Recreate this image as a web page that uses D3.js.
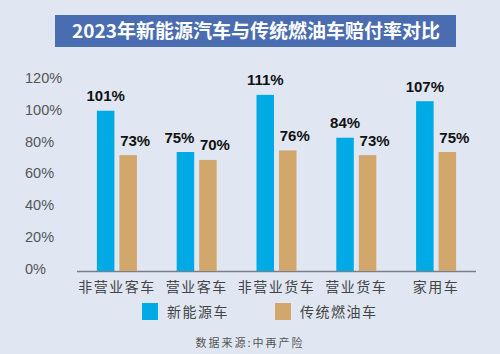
<!DOCTYPE html>
<html>
<head>
<meta charset="utf-8">
<script src="https://cdn.jsdelivr.net/npm/d3@7"></script>
<style>
  html, body { margin: 0; padding: 0; background: #e0e7f2; }
  svg { display: block; }
</style>
</head>
<body>
<div id="chart"></div>
<script>
// chart data
var categories = ['非营业客车', '营业客车', '非营业货车', '营业货车', '家用车']
var seriesNames = ['新能源车', '传统燃油车']
var newEnergy = [101, 75, 111, 84, 107]
var fuelCar = [73, 70, 76, 73, 75]
var yTicks = [0, 20, 40, 60, 80, 100, 120]
var titleText = '2023年新能源汽车与传统燃油车赔付率对比'
var sourceText = '数据来源:中再产险'

var width = 500
var height = 354
var colors = ['#00aae4', '#d2a76c']
var font = 'Liberation Sans, Arial, Noto Sans CJK SC, sans-serif'
var cjk = 'Noto Sans CJK SC, sans-serif'

var svg = d3.select('#chart').append('svg')
    .attr('width', width)
    .attr('height', height)

svg.append('rect')
    .attr('width', width).attr('height', height)
    .attr('fill', '#e0e7f2')

// ---------- title ----------
svg.append('rect')
    .attr('x', 55).attr('y', 15)
    .attr('width', 401).attr('height', 32)
    .attr('fill', '#4a6db1')

svg.append('text')
    .attr('x', 256).attr('y', 37.5)
    .attr('text-anchor', 'middle')
    .attr('fill', '#fff')
    .style('font-family', cjk)
    .style('font-size', '19px')
    .style('font-weight', 'bold')
    .text(titleText)

// ---------- scales ----------
var x = d3.scaleBand()
    .domain(categories)
    .range([77, 476])
    .padding(0)

var y = d3.scaleLinear()
    .domain([0, 120])
    .range([271, 80.6])

var barW = 17.5
var gap = 5

// y tick labels (left aligned like the original)
svg.append('g').selectAll('text')
    .data(yTicks)
    .join('text')
    .attr('x', 25)
    .attr('y', function(d) { return y(d) + 2.5 })
    .attr('fill', '#555')
    .style('font-family', font)
    .style('font-size', '14.5px')
    .text(function(d) { return d + '%' })

// baseline
svg.append('line')
    .attr('x1', 77).attr('x2', 476)
    .attr('y1', 271.5).attr('y2', 271.5)
    .attr('stroke', '#7a7f88')
    .attr('stroke-width', 1.5)

// ---------- bars ----------
var rows = categories.map(function(c, i) {
    return {cat: c, vals: [newEnergy[i], fuelCar[i]]}
})

var groups = svg.append('g').selectAll('g')
    .data(rows)
    .join('g')
    .attr('transform', function(d) {
        var cx = x(d.cat) + x.bandwidth() / 2
        return 'translate(' + (cx - barW - gap / 2) + ',0)'
    })

groups.selectAll('rect')
    .data(function(d) { return d.vals })
    .join('rect')
    .attr('x', function(d, i) { return i * (barW + gap) })
    .attr('y', function(d) { return y(d) })
    .attr('width', barW)
    .attr('height', function(d) { return y(0) - y(d) })
    .attr('fill', function(d, i) { return colors[i] })

// value labels: fuel-car labels sit a little right, blue label nudged left if it would collide
groups.selectAll('text')
    .data(function(d) {
        var blueTop = y(d.vals[0]), tanTop = y(d.vals[1])
        var crowd = Math.abs(blueTop - tanTop) < 14
        return d.vals.map(function(v, i) { return {v: v, i: i, crowd: crowd} })
    })
    .join('text')
    .attr('x', function(d) {
        var cx = d.i * (barW + gap) + barW / 2
        if (d.i == 1) return cx + 7
        return d.crowd ? cx - 6 : cx
    })
    .attr('y', function(d) { return y(d.v) - 9.5 })
    .attr('text-anchor', 'middle')
    .attr('fill', '#111')
    .style('font-family', font)
    .style('font-size', '15px')
    .style('font-weight', 'bold')
    .text(function(d) { return d.v + '%' })

// category labels
svg.append('g').selectAll('text')
    .data(categories)
    .join('text')
    .attr('x', function(d) { return x(d) + x.bandwidth() / 2 })
    .attr('y', 291.5)
    .attr('text-anchor', 'middle')
    .attr('fill', '#444')
    .style('font-family', cjk)
    .style('font-size', '14px')
    .style('letter-spacing', '1.5px')
    .text(function(d) { return d })

// ---------- legend ----------
var legendX = [142, 275]
var legend = svg.append('g').selectAll('g')
    .data(seriesNames)
    .join('g')
    .attr('transform', function(d, i) { return 'translate(' + legendX[i] + ',303)' })

legend.append('rect')
    .attr('width', 16).attr('height', 17)
    .attr('fill', function(d, i) { return colors[i] })

legend.append('text')
    .attr('x', 25).attr('y', 14)
    .attr('fill', '#444')
    .style('font-family', cjk)
    .style('font-size', '14px')
    .style('letter-spacing', '1.5px')
    .text(function(d) { return d })

// source
svg.append('text')
    .attr('x', 250).attr('y', 346.5)
    .attr('text-anchor', 'middle')
    .attr('fill', '#555')
    .style('font-family', cjk)
    .style('font-size', '11px')
    .style('letter-spacing', '2px')
    .text(sourceText)
</script>
</body>
</html>
